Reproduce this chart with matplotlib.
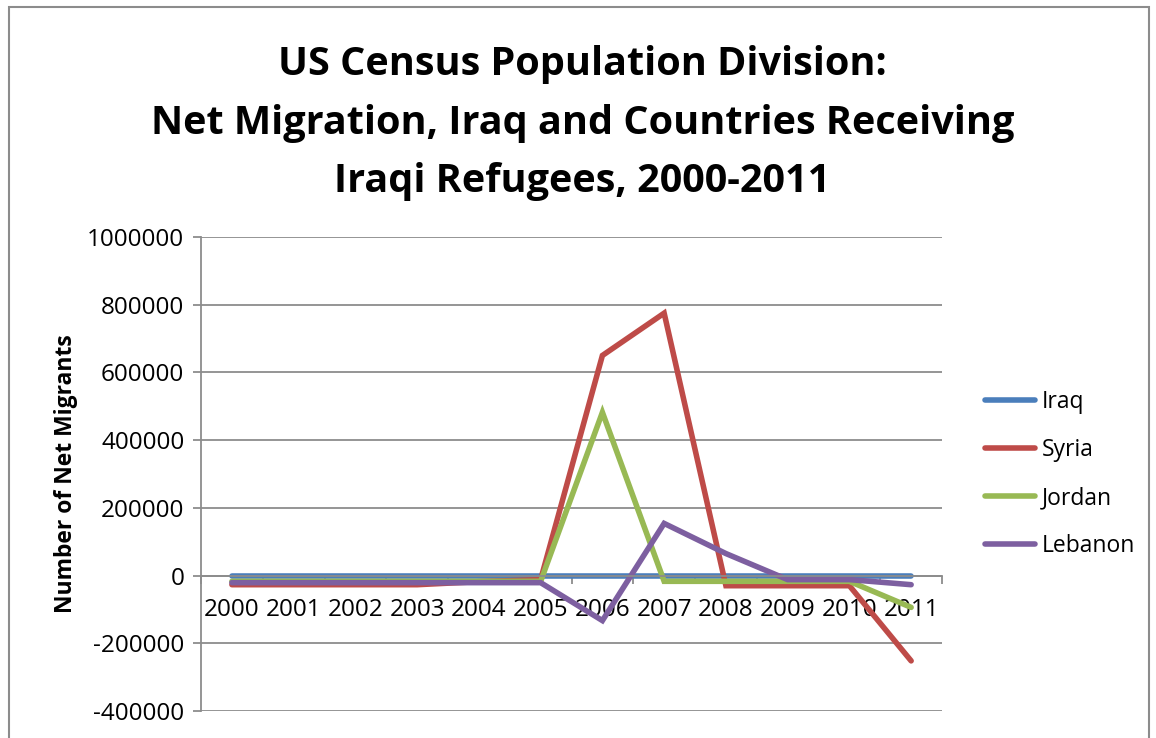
import matplotlib.pyplot as plt
from matplotlib.patches import Rectangle

years = ["2000", "2001", "2002", "2003", "2004", "2005",
         "2006", "2007", "2008", "2009", "2010", "2011"]
iraq = [0, 0, 0, 0, 0, 0, 0, 0, 0, 0, 0, 0]
syria = [-27000, -27000, -27000, -27000, -18000, -12000,
         650000, 775000, -30000, -30000, -30000, -252000]
jordan = [-17000, -17000, -17000, -17000, -17000, -17000,
          482000, -17000, -17000, -17000, -17000, -94000]
lebanon = [-21000, -21000, -21000, -21000, -21000, -21000,
           -133000, 154000, 65000, -12000, -12000, -27000]

series = [("Iraq", iraq, "#4a7ebb"), ("Syria", syria, "#be4b48"),
          ("Jordan", jordan, "#98b954"), ("Lebanon", lebanon, "#7d5fa0")]

plt.rcParams['font.family'] = ['Open Sans', 'DejaVu Sans']

fig = plt.figure(figsize=(11.56, 7.38), dpi=100)
ax = fig.add_axes([0.1739, 0.0366, 0.8149 - 0.1739, 0.6789 - 0.0366])

x = list(range(len(years)))
for name, vals, col in series:
    ax.plot(x, vals, color=col, linewidth=4, label=name, solid_capstyle='round',
            solid_joinstyle='miter')

ax.set_xlim(-0.5, len(years) - 0.5)
ax.set_ylim(-400000, 1000000)
ax.set_yticks(range(-400000, 1000001, 200000))
ax.set_yticklabels([str(v) for v in range(-400000, 1000001, 200000)], fontsize=17.5)
ax.grid(axis='y', color='#8c8c8c', linewidth=1.3)
ax.set_axisbelow(True)

for s in ['top', 'right']:
    ax.spines[s].set_visible(False)
ax.spines['left'].set_color('#8c8c8c')
ax.spines['left'].set_linewidth(1.3)
ax.spines['bottom'].set_position(('data', 0))
ax.spines['bottom'].set_color('#8c8c8c')
ax.spines['bottom'].set_linewidth(1.3)

ax.set_xticks([i - 0.5 for i in range(len(years) + 1)])
ax.set_xticklabels([])
ax.set_xticks(x, minor=True)
ax.set_xticklabels(years, minor=True, fontsize=17.5)
ax.tick_params(axis='x', which='major', direction='out', length=6, color='#8c8c8c', width=1.3)
ax.tick_params(axis='x', which='minor', length=0, pad=16)
ax.tick_params(axis='y', direction='out', length=6, color='#8c8c8c', width=1.3, pad=6)

ax.set_ylabel("Number of Net Migrants", fontsize=16.5, fontweight='bold', labelpad=7)

fig.text(0.504, 0.833, "US Census Population Division:\nNet Migration, Iraq and Countries Receiving\nIraqi Refugees, 2000-2011",
         ha='center', va='center', fontsize=28.5, fontweight='bold', linespacing=1.65)

ax.legend(loc='center left', bbox_to_anchor=(1.03, 0.5), frameon=False, fontsize=16.5,
          handlelength=2.2, labelspacing=1.05, handletextpad=0.3)

fig.patches.append(Rectangle((9 / 1156, -0.05), 1140 / 1156, 1 - 7 / 738 + 0.05,
                             transform=fig.transFigure, fill=False,
                             edgecolor='#8c8c8c', linewidth=1.5, clip_on=False))

fig.savefig("out.png", dpi=100)
